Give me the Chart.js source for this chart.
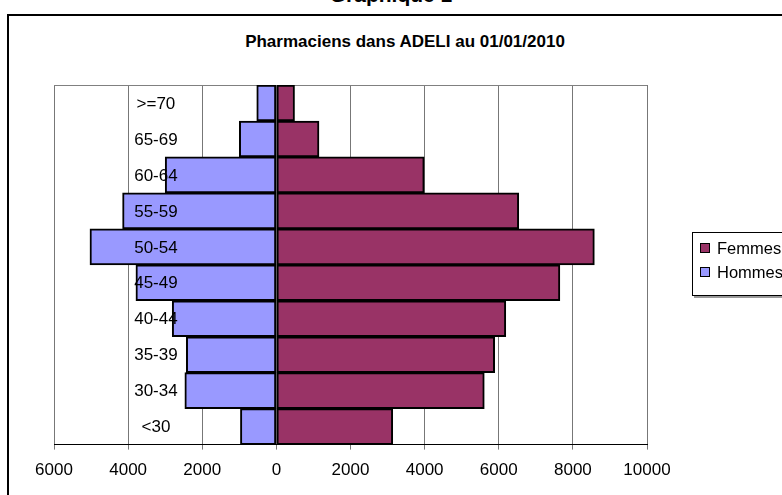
<!DOCTYPE html>
<html lang="fr">
<head>
    <meta charset="UTF-8">
    <title>Pharmaciens dans ADELI au 01/01/2010</title>
    <script src="https://cdn.jsdelivr.net/npm/chart.js"></script>
    <style>
        body { margin: 0; background: #fff; font-family: Arial, "Liberation Sans", sans-serif; }
        #wrap { position: relative; width: 782px; height: 495px; overflow: hidden; }
        #frame { position: absolute; left: 7px; top: 14px; width: 800px; height: 500px; border: 2px solid #000; }
        #supTitle { position: absolute; left: 0; width: 782px; top: -17px; text-align: center; font-weight: bold; font-size: 21px; }
        #title { position: absolute; left: 20px; width: 770px; top: 32px; text-align: center; font-weight: bold; font-size: 17px; }
        #legend { position: absolute; left: 692px; top: 232px; width: 110px; height: 62px; border: 1px solid #000; box-shadow: 2px 2px 0 #999; background: #fff; }
        .item { position: absolute; left: 7px; font-size: 16.5px; line-height: 20px; }
        .item span { display: inline-block; width: 8px; height: 8px; border: 1px solid #000; margin-right: 7px; vertical-align: 1px; }
        canvas { position: absolute; left: 0; top: 0; }
    </style>
</head>
<body>
    <div id="wrap">
        <div id="supTitle">Graphique 1</div>
        <div id="frame"></div>
        <div id="title">Pharmaciens dans ADELI au 01/01/2010</div>
        <canvas id="pyramid" width="782" height="495"></canvas>
        <div id="legend"></div>
    </div>
    <script>
        // age groups, youngest first
        var ageGroups = ['<30', '30-34', '35-39', '40-44', '45-49', '50-54', '55-59', '60-64', '65-69', '>=70'];
        var femmes = [3140, 5610, 5890, 6190, 7650, 8580, 6540, 3990, 1150, 490];
        var hommes = [970, 2470, 2430, 2810, 3790, 5030, 4150, 3000, 1000, 530];
        var xTicks = [-6000, -4000, -2000, 0, 2000, 4000, 6000, 8000, 10000];

        var femmesColor = '#993366';
        var hommesColor = '#9999FF';

        // age labels are drawn inside the plot, on top of the bars
        var ageLabels = {
            id: 'ageLabels',
            afterDatasetsDraw: function (chart) {
                var ctx = chart.ctx;
                var x = chart.scales.x.getPixelForValue(-3250);
                ctx.save();
                ctx.font = '17px Arial, "Liberation Sans"';
                ctx.fillStyle = '#000';
                ctx.textAlign = 'center';
                ctx.textBaseline = 'middle';
                ageGroups.forEach(function (g, i) {
                    ctx.fillText(g, x, chart.scales.y.getPixelForValue(i) + 1);
                });
                ctx.restore();
            }
        };

        var plotFrame = {
            id: 'plotFrame',
            beforeDatasetsDraw: function (chart) {
                var a = chart.chartArea;
                var ctx = chart.ctx;
                ctx.save();
                ctx.strokeStyle = '#808080';
                ctx.lineWidth = 1;
                ctx.beginPath();
                ctx.moveTo(a.left, a.top + 0.5);
                ctx.lineTo(a.right, a.top + 0.5);
                ctx.stroke();
                ctx.restore();
            }
        };

        var ctx = document.getElementById('pyramid').getContext('2d');
        var pyramid = new Chart(ctx, {
            type: 'bar',
            data: {
                labels: ageGroups,
                datasets: [{
                    label: 'Hommes',
                    data: hommes.map(function (v) { return -v; }),
                    backgroundColor: hommesColor,
                    borderColor: '#000',
                    borderWidth: 2,
                    borderSkipped: false
                }, {
                    label: 'Femmes',
                    data: femmes,
                    backgroundColor: femmesColor,
                    borderColor: '#000',
                    borderWidth: 2,
                    borderSkipped: false
                }]
            },
            plugins: [plotFrame, ageLabels],
            options: {
                indexAxis: 'y',
                responsive: false,
                animation: false,
                categoryPercentage: 1.0,
                barPercentage: 1.0,
                layout: { padding: { left: 54, right: 135, top: 85, bottom: 3 } },
                plugins: {
                    legend: { display: false },
                    tooltip: { enabled: false }
                },
                scales: {
                    x: {
                        min: -6000,
                        max: 10000,
                        afterBuildTicks: function (scale) {
                            scale.ticks = xTicks.map(function (v) { return { value: v }; });
                        },
                        grid: { color: '#777', lineWidth: 1, tickLength: 5 },
                        border: { color: '#000', width: 1 },
                        ticks: {
                            color: '#000',
                            padding: 11,
                            maxRotation: 0,
                            font: { family: 'Arial, "Liberation Sans"', size: 17 },
                            callback: function (v) { return Math.abs(v); }
                        }
                    },
                    y: {
                        stacked: true,
                        reverse: true,
                        display: false
                    }
                }
            }
        });

        // legend: Femmes first, as in the original
        var legendBox = document.getElementById('legend');
        [['Femmes', femmesColor], ['Hommes', hommesColor]].forEach(function (it, i) {
            var d = document.createElement('div');
            d.className = 'item';
            d.style.top = (5 + i * 24) + 'px';
            d.innerHTML = '<span style="background:' + it[1] + '"></span>' + it[0];
            legendBox.appendChild(d);
        });
    </script>
</body>
</html>
